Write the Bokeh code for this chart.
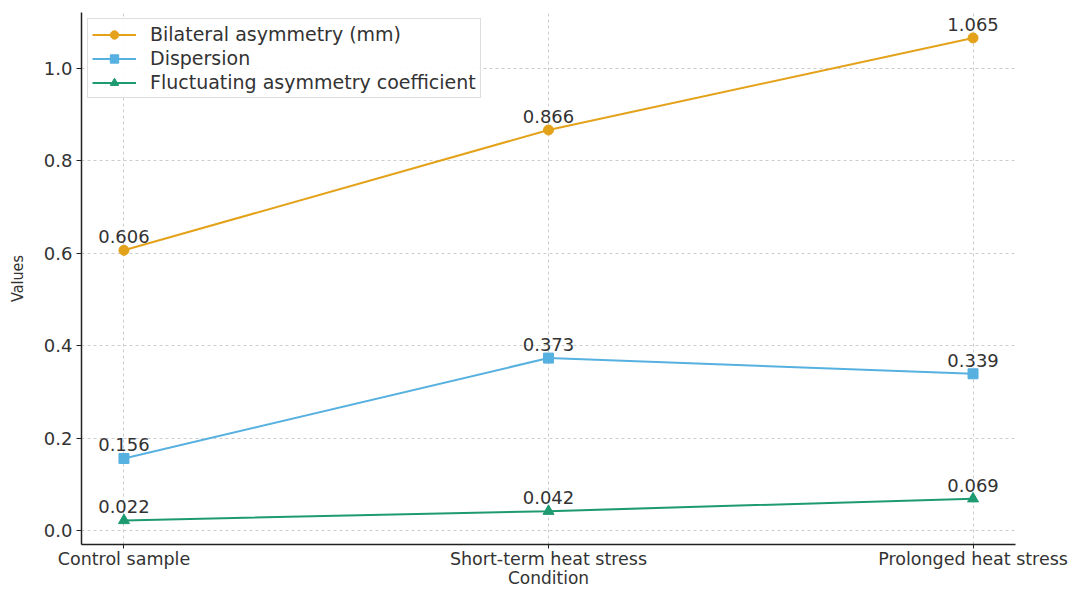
from bokeh.plotting import figure
from bokeh.models import Range1d, FixedTicker, ColumnDataSource, Legend, LegendItem
from bokeh.embed import file_html
from bokeh.resources import INLINE

conditions = ["Control sample", "Short-term heat stress", "Prolonged heat stress"]
bilateral = [0.606, 0.866, 1.065]
dispersion = [0.156, 0.373, 0.339]
fluct = [0.022, 0.042, 0.069]
series_names = ["Bilateral asymmetry (mm)", "Dispersion", "Fluctuating asymmetry coefficient"]
colors = ["#E3A21A", "#56B0E0", "#1E9A70"]
markers = ["circle", "square", "triangle"]
y_ticks = [0.0, 0.2, 0.4, 0.6, 0.8, 1.0]

xs = list(range(len(conditions)))
Y0, Y1 = -0.03, 1.12

p = figure(width=1086, height=590, output_backend="svg", toolbar_location=None,
           x_range=Range1d(-0.1, 2.1), y_range=Range1d(Y0, Y1),
           min_border_left=81, min_border_top=12, min_border_right=71, min_border_bottom=42)
p.outline_line_color = None
p.background_fill_color = "white"
p.border_fill_color = "white"

p.xaxis.ticker = FixedTicker(ticks=xs)
p.xaxis.major_label_overrides = {i: c for i, c in enumerate(conditions)}
p.yaxis.ticker = FixedTicker(ticks=y_ticks)
p.yaxis.major_label_overrides = {t: f"{t:.1f}" for t in y_ticks}

for ax in (p.xaxis, p.yaxis):
    ax.axis_line_color = "#222222"
    ax.axis_line_width = 1.5
    ax.major_tick_line_color = "#222222"
    ax.major_tick_out = 5
    ax.major_tick_in = 0
    ax.minor_tick_line_color = None
    ax.major_label_text_font = "DejaVu Sans"
    ax.major_label_text_font_size = "18px"
    ax.major_label_text_color = "#333333"
    ax.axis_label_text_font_style = "normal"
    ax.axis_label_text_color = "#333333"

p.xaxis.major_tick_out = 4
p.xaxis.major_label_standoff = 0
p.xaxis.major_label_text_font_size = "17.5px"
p.xaxis.axis_label = "Condition"
p.xaxis.axis_label_text_font = "DejaVu Sans"
p.xaxis.axis_label_text_font_size = "17px"
p.xaxis.axis_label_standoff = -4
p.yaxis.axis_label = "Values"
p.yaxis.axis_label_text_font = "DejaVu Sans Condensed"
p.yaxis.axis_label_text_font_size = "16px"
p.yaxis.axis_label_standoff = 14
p.yaxis.major_label_standoff = 4

p.xgrid.grid_line_color = "#cccccc"
p.xgrid.grid_line_dash = "3 3"
p.ygrid.grid_line_color = "#cccccc"
p.ygrid.grid_line_dash = "3 3"

items = []
for name, vals, col, mk in zip(series_names, [bilateral, dispersion, fluct], colors, markers):
    src = ColumnDataSource(dict(x=xs, y=vals, lbl=[f"{v:.3f}" for v in vals]))
    r1 = p.line("x", "y", source=src, line_color=col, line_width=2)
    r2 = p.scatter("x", "y", source=src, marker=mk, size=10 if mk != "triangle" else 11,
                   fill_color=col, line_color=col)
    p.text("x", "y", text="lbl", source=src, text_align="center", text_baseline="bottom",
           y_offset=-7, text_font_size="18px", text_color="#333333",
           text_font={"value": "DejaVu Sans"})
    items.append(LegendItem(label=name, renderers=[r1, r2]))

legend = Legend(items=items, location="top_left")
legend.label_text_font = "DejaVu Sans"
legend.label_text_font_size = "19px"
legend.label_text_color = "#333333"
legend.glyph_width = 44
legend.label_height = 21
legend.glyph_height = 21
legend.spacing = 2
legend.padding = 4
legend.margin = 6
legend.label_standoff = 14
legend.border_line_color = "#dddddd"
legend.border_line_alpha = 1
legend.background_fill_alpha = 0.9
p.add_layout(legend)

open("out.html", "w").write(file_html(p, INLINE))
